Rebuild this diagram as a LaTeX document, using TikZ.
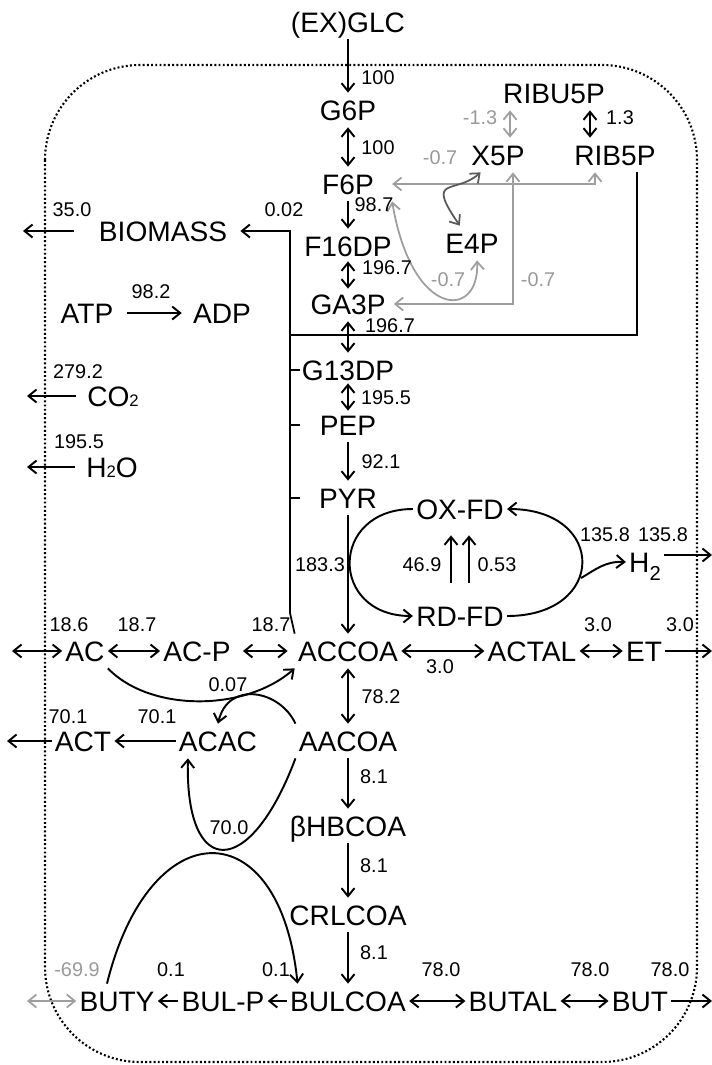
\documentclass[tikz,border=0pt]{standalone}
\usepackage{fontspec}
\setmainfont{Liberation Sans}
\usetikzlibrary{arrows.meta}
\newcommand{\metsub}[1]{{\fontsize{9.5}{10}\selectfont #1}}

\begin{document}
\begin{tikzpicture}[
    x=0.02cm, y=-0.02cm,
    barb/.tip={Straight Barb[length=1.6mm,width=2.6mm]},
    met/.style={inner xsep=0.06cm, inner ysep=0.14cm, text height=11.4pt, text depth=0pt, font=\fontsize{16}{18}\selectfont},
    flux/.style={inner sep=0pt, font=\fontsize{11.3}{13}\selectfont},
    grayflux/.style={flux, text=black!40},
    arrow/.style={-barb, line width=1.1pt},
    darrow/.style={barb-barb, line width=1.1pt},
    graydarrow/.style={barb-barb, line width=1pt, draw=black!38},
    darkdarrow/.style={barb-barb, line width=1pt, draw=black!65},
    link/.style={line width=1pt},
    border/.style={line width=1.2pt, dash pattern=on 1.1pt off 1.3pt, rounded corners=1.9cm}
]
\useasboundingbox (0,0) rectangle (712,1065);

% cell border
\draw[border] (45,65) rectangle (697,1062);

% main column
\node[met] (glc) at (348,22) {(EX)GLC};
\node[met] (g6p) at (348,110) {G6P};
\node[met] (f6p) at (348,184) {F6P};
\node[met] (f16dp) at (348,246) {F16DP};
\node[met] (ga3p) at (348,304) {GA3P};
\node[met] (g13dp) at (348,370) {G13DP};
\node[met] (pep) at (348,425) {PEP};
\node[met] (pyr) at (348,498) {PYR};
\node[met] (accoa) at (348,651) {ACCOA};
\node[met] (aacoa) at (348,741) {AACOA};
\node[met] (bhbcoa) at (348,826) {βHBCOA};
\node[met] (crlcoa) at (348,915) {CRLCOA};
\node[met] (bulcoa) at (348,1001) {BULCOA};

% pentose phosphate
\node[met] (ribu5p) at (554,93) {RIBU5P};
\node[met] (x5p) at (498,155) {X5P};
\node[met] (rib5p) at (615,155) {RIB5P};
\node[met] (e4p) at (472,243) {E4P};

% left side
\node[met] (biomass) at (163,231) {BIOMASS};
\node[met] (atp) at (87,313) {ATP};
\node[met] (adp) at (222,313) {ADP};
\node[met] (co2) at (113,396) {CO\metsub{2}};
\node[met] (h2o) at (112,467) {H\metsub{2}O};

% ferredoxin
\node[met] (oxfd) at (460,509) {OX-FD};
\node[met] (rdfd) at (460,616) {RD-FD};
\node[met] (h2) at (645,562) {H\raisebox{-0.3em}{\fontsize{11.5}{12}\selectfont 2}};

% acetyl row
\node[met] (ac) at (85,651) {AC};
\node[met] (acp) at (197,651) {AC-P};
\node[met] (actal) at (532,651) {ACTAL};
\node[met] (et) at (644,651) {ET};
\node[met] (act) at (83,741) {ACT};
\node[met] (acac) at (218,741) {ACAC};

% butyrate row
\node[met] (buty) at (117,1001) {BUTY};
\node[met] (bulp) at (223,1001) {BUL-P};
\node[met] (butal) at (513,1001) {BUTAL};
\node[met] (but) at (640,1001) {BUT};

% free ends
\coordinate (bmout) at (23,231);
\coordinate (co2out) at (27,396);
\coordinate (h2oout) at (27,467);
\coordinate (acout) at (12,651);
\coordinate (actout) at (7,741);
\coordinate (butyout) at (27,1001);
\coordinate (h2out) at (712,555);
\coordinate (etout) at (712,651);
\coordinate (butout) at (712,1001);
\coordinate (jn) at (290,335);
\coordinate (jnend) at (290,613);
\coordinate (fdright) at (581,578);

% glycolysis
\draw[arrow] (glc) -- (g6p);
\draw[darrow] (g6p) -- (f6p);
\draw[arrow] (f6p) -- (f16dp);
\draw[darrow, shorten <=-0.04cm, shorten >=-0.04cm] (f16dp) -- (ga3p);
\draw[darrow] (ga3p) -- (g13dp);
\draw[darrow, shorten <=-0.08cm, shorten >=-0.06cm] (g13dp) -- (pep);
\draw[arrow] (pep) -- (pyr);
\draw[arrow] (pyr) -- (accoa);
\draw[darrow] (accoa) -- (aacoa);
\draw[arrow] (aacoa) -- (bhbcoa);
\draw[arrow] (bhbcoa) -- (crlcoa);
\draw[arrow] (crlcoa) -- (bulcoa);

% pentose phosphate
\draw[graydarrow] ([xshift=-0.88cm]ribu5p.south) -- ([xshift=0.24cm]x5p.north);
\draw[darrow] ([xshift=0.72cm]ribu5p.south) -- ([xshift=-0.5cm]rib5p.north);
\draw[graydarrow, shorten <=0.3cm] (f6p.east) -| ([xshift=-0.4cm]rib5p.south);
\draw[graydarrow, shorten <=0.1cm] (ga3p.east) -| ([xshift=0.3cm]x5p.south);
\draw[graydarrow] ([xshift=0.3cm]f6p.south east) .. controls (412,320) and (480,320) .. ([xshift=0.1cm]e4p.south);
\draw[darkdarrow] (x5p.225) .. controls (455,195) and (425,175) .. (e4p.125);

% biomass branch
\draw[link] ([xshift=0.44cm]rib5p.south) |- (jn);
\draw[arrow, shorten >=0.2cm] (jn) |- (biomass.east);
\draw[link] (jn) -- (jnend) -- (accoa.north west);
\draw[link] (jn |- g13dp.west) -- ++(10,0);
\draw[link] (jn |- pep.west) -- ++(10,0);
\draw[link] (jn |- pyr.west) -- ++(10,0);

% left side
\draw[arrow] ([xshift=-0.44cm]biomass.west) -- (bmout);
\draw[arrow, shorten <=0.2cm, shorten >=0.16cm] (atp) -- (adp);
\draw[arrow] ([xshift=-0.16cm]co2.west) -- (co2out);
\draw[arrow] ([xshift=-0.16cm]h2o.west) -- (h2oout);

% ferredoxin
\draw[arrow] (oxfd.west) .. controls +(-84,0) and +(-84,0) .. (rdfd.west);
\draw[arrow] (rdfd.east) .. controls +(100,0) and +(100,0) .. (oxfd.east);
\draw[arrow, shorten <=0.32cm, shorten >=0.18cm] ([xshift=-0.18cm]rdfd.north) -- ([xshift=-0.18cm]oxfd.south);
\draw[arrow, shorten <=0.32cm, shorten >=0.18cm] ([xshift=0.18cm]rdfd.north) -- ([xshift=0.18cm]oxfd.south);
\draw[arrow] (fdright) .. controls (595,570) and (605,561) .. (h2.west);
\draw[arrow] ([yshift=0.14cm]h2.east) -- (h2out);

% acetyl row
\draw[darrow] (acout) -- (ac);
\draw[darrow] (ac) -- (acp);
\draw[darrow, shorten <=0.18cm, shorten >=0.14cm] (acp) -- (accoa);
\draw[darrow] (accoa) -- (actal);
\draw[darrow] (actal) -- (et);
\draw[arrow] (et) -- (etout);
\draw[arrow] (acac) -- (act);
\draw[arrow] (act) -- (actout);
\draw[arrow] (ac.south east) .. controls (150,712) and (245,712) .. (accoa.south west);
\draw[arrow] (aacoa.north west) .. controls (280,690) and (228,680) .. (acac.north);
\draw[arrow] (aacoa.south west) .. controls (250,880) and (185,880) .. (acac.210);

% butyrate row
\draw[arrow] (bulcoa) -- (bulp);
\draw[arrow] (bulp) -- (buty);
\draw[graydarrow] (butyout) -- (buty);
\draw[darrow] (bulcoa) -- (butal);
\draw[darrow] (butal) -- (but);
\draw[arrow] (but) -- (butout);
\draw[arrow] (buty.120) .. controls (150,810) and (280,810) .. (bulcoa.161);

% flux values
\node[flux] at (378,78) {100};
\node[flux] at (378,148) {100};
\node[flux] at (374,205) {98.7};
\node[flux] at (387,268) {196.7};
\node[flux] at (390,326) {196.7};
\node[flux] at (386,398) {195.5};
\node[flux] at (381,462) {92.1};
\node[flux] at (320,565) {183.3};
\node[flux] at (422,565) {46.9};
\node[flux] at (497,565) {0.53};
\node[flux] at (605,535) {135.8};
\node[flux] at (663,535) {135.8};
\node[grayflux] at (480,118) {-1.3};
\node[flux] at (620,118) {1.3};
\node[grayflux] at (440,158) {-0.7};
\node[grayflux] at (448,280) {-0.7};
\node[grayflux] at (538,280) {-0.7};
\node[flux] at (284,210) {0.02};
\node[flux] at (72,210) {35.0};
\node[flux] at (151,292) {98.2};
\node[flux] at (78,372) {279.2};
\node[flux] at (79,442) {195.5};
\node[flux] at (69,625) {18.6};
\node[flux] at (137,625) {18.7};
\node[flux] at (271,625) {18.7};
\node[flux] at (440,667) {3.0};
\node[flux] at (598,625) {3.0};
\node[flux] at (680,625) {3.0};
\node[flux] at (228,685) {0.07};
\node[flux] at (68,717) {70.1};
\node[flux] at (157,717) {70.1};
\node[flux] at (381,697) {78.2};
\node[flux] at (374,777) {8.1};
\node[flux] at (229,828) {70.0};
\node[flux] at (374,866) {8.1};
\node[flux] at (374,953) {8.1};
\node[grayflux] at (77,970) {-69.9};
\node[flux] at (171,970) {0.1};
\node[flux] at (276,970) {0.1};
\node[flux] at (441,970) {78.0};
\node[flux] at (590,970) {78.0};
\node[flux] at (670,970) {78.0};

\end{tikzpicture}
\end{document}
